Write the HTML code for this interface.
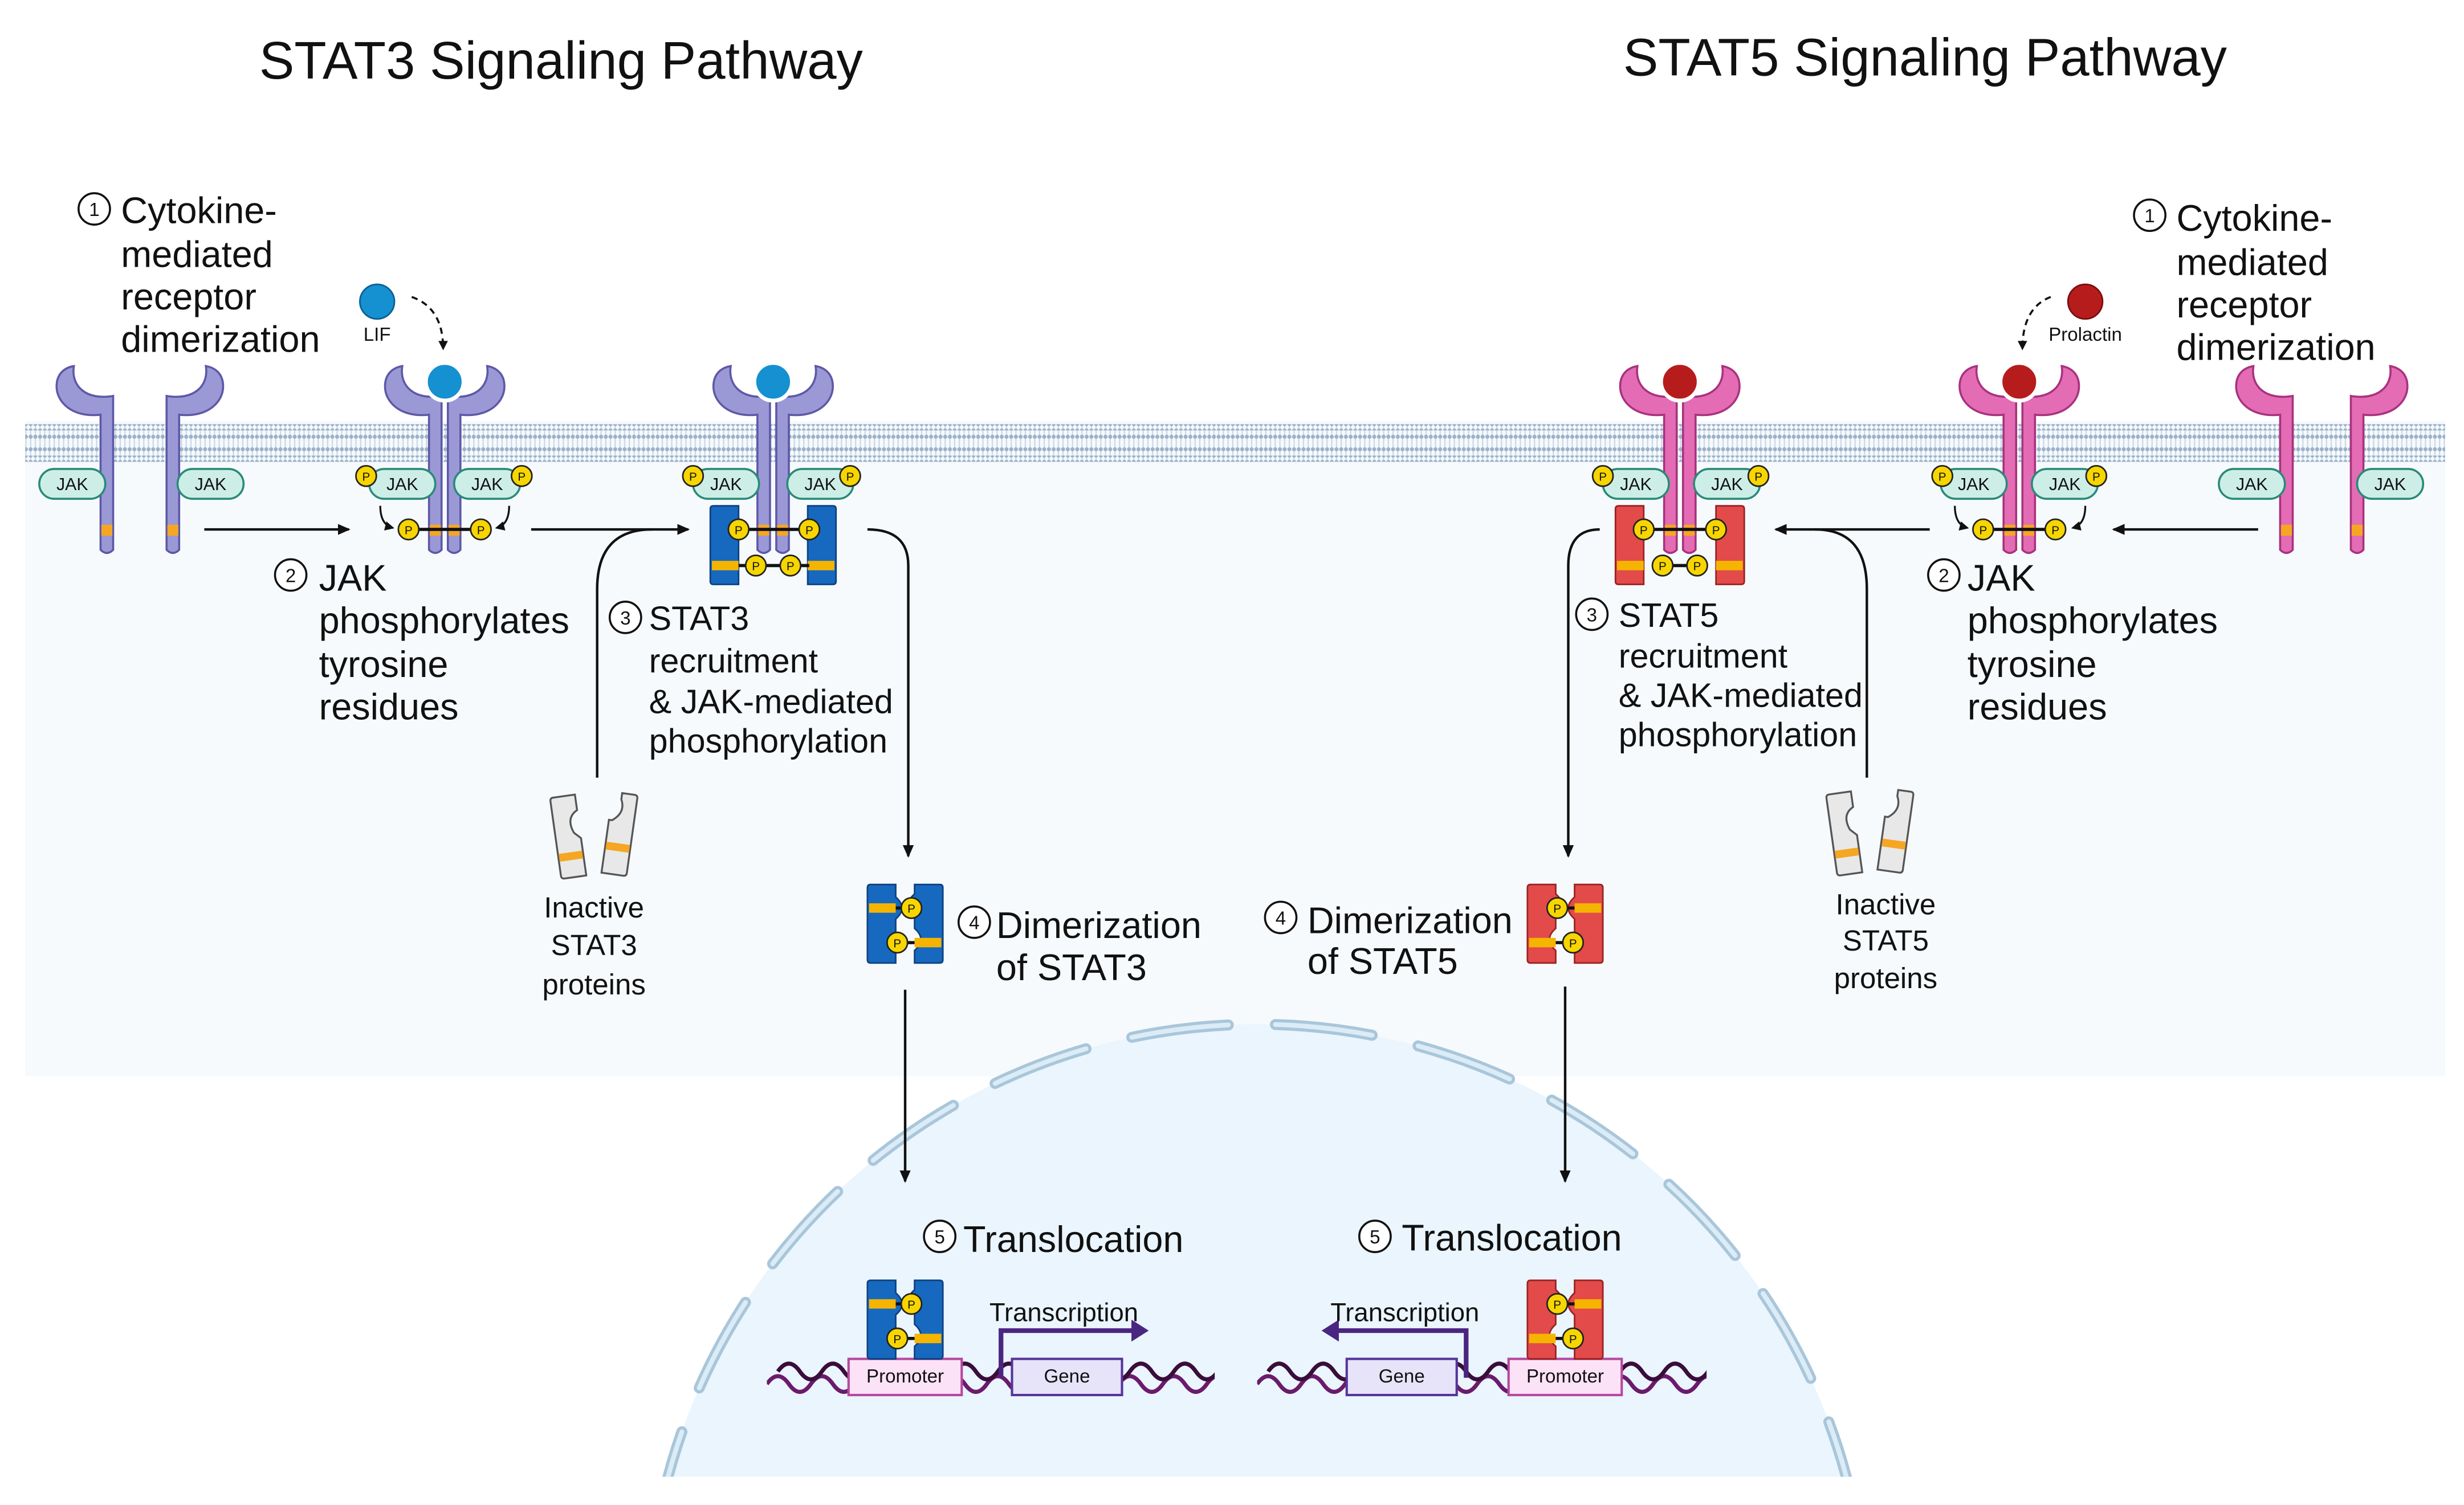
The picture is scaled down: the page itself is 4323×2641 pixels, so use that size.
<!DOCTYPE html>
<html><head><meta charset="utf-8"><style>
html,body{margin:0;padding:0;background:#fff;width:4323px;height:2641px;overflow:hidden;}
svg{display:block;}
text{font-family:"Liberation Sans",sans-serif;fill:#111;}
</style></head><body>
<svg width="4323" height="2641" viewBox="0 0 1568 958" preserveAspectRatio="none" xmlns="http://www.w3.org/2000/svg">
<defs>
<marker id="ah" markerWidth="8" markerHeight="8" refX="7" refY="4" orient="auto" markerUnits="userSpaceOnUse"><path d="M0,0.5 L8,4 L0,7.5 Z" fill="#111"/></marker>
<marker id="ahs" markerWidth="6" markerHeight="6" refX="5" refY="3" orient="auto" markerUnits="userSpaceOnUse"><path d="M0,0 L6,3 L0,6 Z" fill="#111"/></marker>
<pattern id="dots" width="3" height="4" patternUnits="userSpaceOnUse"><circle cx="1.5" cy="2" r="1.3" fill="#9db2c8"/></pattern>
<pattern id="tails" width="3" height="14" patternUnits="userSpaceOnUse"><line x1="1.5" y1="0" x2="1.5" y2="14" stroke="#c9d8e6" stroke-width="0.8"/></pattern>
<clipPath id="nclip"><rect x="0" y="0" width="1568" height="940"/></clipPath>
<g id="rP">
<path d="M-4,350 L-4,264 C-22,266 -32,256 -32,246 C-32,238 -27,234 -21,233 C-23,246 -13,255 4,252 L4,350 Q0,354 -4,350 Z" fill="#9b98d6" stroke="#5d58a6" stroke-width="1.3"/>
<rect x="-3.5" y="334" width="7" height="7" fill="#f5a623"/>
</g>
<g id="rK">
<path d="M-4,350 L-4,264 C-22,266 -32,256 -32,246 C-32,238 -27,234 -21,233 C-23,246 -13,255 4,252 L4,350 Q0,354 -4,350 Z" fill="#e36cb4" stroke="#a8327e" stroke-width="1.3"/>
<rect x="-3.5" y="334" width="7" height="7" fill="#f5a623"/>
</g>
<g id="jak"><rect x="-21" y="-9.5" width="42" height="19" rx="9.5" fill="#cdeee7" stroke="#2a8a78" stroke-width="1.3"/></g>
<g id="p"><circle r="6.5" fill="#f7d500" stroke="#222" stroke-width="1"/></g>
<g id="dimB">
<path d="M0,2 Q0,0 2,0 L18,0 L18,8 Q26,15 18,22 L18,30 Q10,37 18,44 L18,50 L2,50 Q0,50 0,48 Z" fill="#1669bf" stroke="#0e4180" stroke-width="1"/>
<path d="M48,2 Q48,0 46,0 L30,0 L30,6 Q22,13 30,20 L30,28 Q38,35 30,42 L30,50 L46,50 Q48,50 48,48 Z" fill="#1669bf" stroke="#0e4180" stroke-width="1"/>
<rect x="1" y="12" width="17" height="6" fill="#f5b400"/><rect x="30" y="34" width="17" height="6" fill="#f5b400"/>
<line x1="18" y1="15" x2="28" y2="15" stroke="#111" stroke-width="2"/><line x1="20" y1="37" x2="30" y2="37" stroke="#111" stroke-width="2"/>
<use href="#p" x="28" y="15"/><use href="#p" x="19" y="37"/>
</g>
<g id="dimR">
<path d="M0,2 Q0,0 2,0 L18,0 L18,6 Q26,13 18,20 L18,28 Q10,35 18,42 L18,50 L2,50 Q0,50 0,48 Z" fill="#e34a4a" stroke="#9a2222" stroke-width="1"/>
<path d="M48,2 Q48,0 46,0 L30,0 L30,8 Q22,15 30,22 L30,30 Q38,37 30,44 L30,50 L46,50 Q48,50 48,48 Z" fill="#e34a4a" stroke="#9a2222" stroke-width="1"/>
<rect x="30" y="12" width="17" height="6" fill="#f5b400"/><rect x="1" y="34" width="17" height="6" fill="#f5b400"/>
<line x1="20" y1="15" x2="30" y2="15" stroke="#111" stroke-width="2"/><line x1="18" y1="37" x2="28" y2="37" stroke="#111" stroke-width="2"/>
<use href="#p" x="19" y="15"/><use href="#p" x="29" y="37"/>
</g>
<g id="inact">
<g transform="rotate(-8)"><path d="M0,2 Q0,0 2,0 L16,0 L16,10 Q8,14 12,24 L16,28 L16,52 L2,52 Q0,52 0,50 Z" fill="#e8e8e8" stroke="#555" stroke-width="1.2"/><rect x="0.5" y="36" width="15" height="5" fill="#f5a623"/></g>
<g transform="translate(40,-4) rotate(8)"><path d="M16,2 Q16,0 14,0 L6,0 L6,4 Q10,12 2,18 L0,18 L0,52 L14,52 Q16,52 16,50 Z" fill="#e8e8e8" stroke="#555" stroke-width="1.2"/><rect x="0.5" y="32" width="15" height="5" fill="#f5a623"/></g>
</g>
<path id="helix" d="M0,0 q7,-10 14,0 t14,0 t14,0 t14,0 t14,0 t14,0 t14,0 t14,0 t14,0 t14,0 t14,0 t14,0 t14,0 t14,0 t14,0 t14,0 t14,0 t14,0 t14,0 t14,0 t14,0"/>
</defs>

<rect x="16" y="268" width="1540" height="417" fill="#f6fafd"/>
<g clip-path="url(#nclip)">
<circle cx="800" cy="1040" r="388" fill="#eaf5fd"/>
<circle cx="800" cy="1040" r="388" fill="none" stroke="#a9c6da" stroke-width="7" stroke-dasharray="62 30" stroke-linecap="round"/>
<circle cx="800" cy="1040" r="388" fill="none" stroke="#dbecf7" stroke-width="3" stroke-dasharray="62 30" stroke-linecap="round"/>
</g>
<rect x="16" y="270" width="1540" height="24" fill="url(#tails)"/>
<rect x="16" y="270" width="1540" height="4" fill="url(#dots)"/>
<rect x="16" y="276" width="1540" height="4" fill="url(#dots)"/>
<rect x="16" y="284" width="1540" height="4" fill="url(#dots)"/>
<rect x="16" y="290" width="1540" height="4" fill="url(#dots)"/>

<text x="357" y="50" font-size="33.5" text-anchor="middle">STAT3 Signaling Pathway</text>
<text x="1225" y="48" font-size="33.5" text-anchor="middle">STAT5 Signaling Pathway</text>

<g font-size="23.5">
<text x="77" y="142">Cytokine-</text><text x="77" y="170">mediated</text><text x="77" y="197">receptor</text><text x="77" y="224">dimerization</text>
<text x="203" y="376">JAK</text><text x="203" y="403">phosphorylates</text><text x="203" y="431">tyrosine</text><text x="203" y="458">residues</text>
<text x="634" y="597">Dimerization</text><text x="634" y="624">of STAT3</text>
<text x="613" y="797">Translocation</text>
<text x="1385" y="147">Cytokine-</text><text x="1385" y="175">mediated</text><text x="1385" y="202">receptor</text><text x="1385" y="229">dimerization</text>
<text x="1252" y="376">JAK</text><text x="1252" y="403">phosphorylates</text><text x="1252" y="431">tyrosine</text><text x="1252" y="458">residues</text>
<text x="832" y="594">Dimerization</text><text x="832" y="620">of STAT5</text>
<text x="892" y="796">Translocation</text>
</g>
<g font-size="21.5">
<text x="413" y="401">STAT3</text><text x="413" y="428">recruitment</text><text x="413" y="454">&amp; JAK-mediated</text><text x="413" y="479">phosphorylation</text>
<text x="1030" y="399">STAT5</text><text x="1030" y="425">recruitment</text><text x="1030" y="450">&amp; JAK-mediated</text><text x="1030" y="475">phosphorylation</text>
</g>
<g font-size="18.5" text-anchor="middle">
<text x="378" y="584">Inactive</text><text x="378" y="608">STAT3</text><text x="378" y="633">proteins</text>
<text x="1200" y="582">Inactive</text><text x="1200" y="605">STAT5</text><text x="1200" y="629">proteins</text>
</g>
<g fill="#fff" stroke="#111" stroke-width="1.3">
<circle cx="60" cy="133" r="10"/><circle cx="185" cy="366" r="10"/><circle cx="398" cy="393" r="10"/><circle cx="620" cy="587" r="10"/><circle cx="598" cy="787" r="10"/>
<circle cx="1368" cy="137" r="10"/><circle cx="1237" cy="366" r="10"/><circle cx="1013" cy="391" r="10"/><circle cx="815" cy="584" r="10"/><circle cx="875" cy="787" r="10"/>
</g>
<g font-size="12" text-anchor="middle">
<text x="60" y="137.5">1</text><text x="185" y="370.5">2</text><text x="398" y="397.5">3</text><text x="620" y="591.5">4</text><text x="598" y="791.5">5</text>
<text x="1368" y="141.5">1</text><text x="1237" y="370.5">2</text><text x="1013" y="395.5">3</text><text x="815" y="588.5">4</text><text x="875" y="791.5">5</text>
</g>

<circle cx="240" cy="192" r="11" fill="#1590d0" stroke="#0b5f94" stroke-width="1"/>
<text x="240" y="217" font-size="12" text-anchor="middle">LIF</text>
<path d="M262,189 Q282,196 282,222" fill="none" stroke="#111" stroke-width="1.3" stroke-dasharray="4 3" marker-end="url(#ahs)"/>
<circle cx="1327" cy="192" r="11" fill="#b71c1c" stroke="#7a0e0e" stroke-width="1"/>
<text x="1327" y="217" font-size="12" text-anchor="middle">Prolactin</text>
<path d="M1305,189 Q1287,196 1287,222" fill="none" stroke="#111" stroke-width="1.3" stroke-dasharray="4 3" marker-end="url(#ahs)"/>

<!-- STAT3 receptors -->
<use href="#rP" x="68" y="0"/><use href="#rP" transform="translate(110,0) scale(-1,1)"/>
<use href="#jak" x="46" y="308"/><use href="#jak" x="134" y="308"/>
<use href="#rP" x="277" y="0"/><use href="#rP" transform="translate(289,0) scale(-1,1)"/>
<circle cx="283" cy="243" r="12" fill="#1590d0" stroke="#fff" stroke-width="2.5"/>
<use href="#jak" x="256" y="308"/><use href="#jak" x="310" y="308"/>
<use href="#p" x="233" y="303"/><use href="#p" x="332" y="303"/>
<line x1="260" y1="337" x2="306" y2="337" stroke="#111" stroke-width="2"/>
<use href="#p" x="260" y="337"/><use href="#p" x="306" y="337"/>
<path d="M242,322 Q242,334 250,336" fill="none" stroke="#111" stroke-width="1.2" marker-end="url(#ahs)"/>
<path d="M324,322 Q324,334 316,336" fill="none" stroke="#111" stroke-width="1.2" marker-end="url(#ahs)"/>
<path d="M452,324 Q452,322 454,322 L470,322 L470,330 Q478,337 470,344 L470,372 L454,372 Q452,372 452,370 Z" fill="#1669bf" stroke="#0e4180"/>
<path d="M532,324 Q532,322 530,322 L514,322 L514,330 Q506,337 514,344 L514,372 L530,372 Q532,372 532,370 Z" fill="#1669bf" stroke="#0e4180"/>
<rect x="453" y="357" width="17" height="6" fill="#f5b400"/><rect x="514" y="357" width="17" height="6" fill="#f5b400"/>
<use href="#rP" x="486" y="0"/><use href="#rP" transform="translate(498,0) scale(-1,1)"/>
<circle cx="492" cy="243" r="12" fill="#1590d0" stroke="#fff" stroke-width="2.5"/>
<use href="#jak" x="462" y="308"/><use href="#jak" x="522" y="308"/>
<use href="#p" x="441" y="303"/><use href="#p" x="541" y="303"/>
<line x1="470" y1="337" x2="515" y2="337" stroke="#111" stroke-width="2"/>
<use href="#p" x="470" y="337"/><use href="#p" x="515" y="337"/>
<line x1="470" y1="360" x2="515" y2="360" stroke="#111" stroke-width="2"/>
<use href="#p" x="481" y="360"/><use href="#p" x="503" y="360"/>

<!-- STAT5 receptors -->
<use href="#rK" x="1455" y="0"/><use href="#rK" transform="translate(1500,0) scale(-1,1)"/>
<use href="#jak" x="1433" y="308"/><use href="#jak" x="1521" y="308"/>
<use href="#rK" x="1279" y="0"/><use href="#rK" transform="translate(1291,0) scale(-1,1)"/>
<circle cx="1285" cy="243" r="12" fill="#b71c1c" stroke="#fff" stroke-width="2.5"/>
<use href="#jak" x="1256" y="308"/><use href="#jak" x="1314" y="308"/>
<use href="#p" x="1236" y="303"/><use href="#p" x="1334" y="303"/>
<line x1="1262" y1="337" x2="1308" y2="337" stroke="#111" stroke-width="2"/>
<use href="#p" x="1262" y="337"/><use href="#p" x="1308" y="337"/>
<path d="M1244,322 Q1244,334 1252,336" fill="none" stroke="#111" stroke-width="1.2" marker-end="url(#ahs)"/>
<path d="M1327,322 Q1327,334 1319,336" fill="none" stroke="#111" stroke-width="1.2" marker-end="url(#ahs)"/>
<path d="M1028,324 Q1028,322 1030,322 L1046,322 L1046,330 Q1054,337 1046,344 L1046,372 L1030,372 Q1028,372 1028,370 Z" fill="#e34a4a" stroke="#9a2222"/>
<path d="M1110,324 Q1110,322 1108,322 L1092,322 L1092,330 Q1084,337 1092,344 L1092,372 L1108,372 Q1110,372 1110,370 Z" fill="#e34a4a" stroke="#9a2222"/>
<rect x="1029" y="357" width="17" height="6" fill="#f5b400"/><rect x="1092" y="357" width="17" height="6" fill="#f5b400"/>
<use href="#rK" x="1063" y="0"/><use href="#rK" transform="translate(1075,0) scale(-1,1)"/>
<circle cx="1069" cy="243" r="12" fill="#b71c1c" stroke="#fff" stroke-width="2.5"/>
<use href="#jak" x="1041" y="308"/><use href="#jak" x="1099" y="308"/>
<use href="#p" x="1020" y="303"/><use href="#p" x="1119" y="303"/>
<line x1="1046" y1="337" x2="1092" y2="337" stroke="#111" stroke-width="2"/>
<use href="#p" x="1046" y="337"/><use href="#p" x="1092" y="337"/>
<line x1="1058" y1="360" x2="1080" y2="360" stroke="#111" stroke-width="2"/>
<use href="#p" x="1058" y="360"/><use href="#p" x="1080" y="360"/>

<!-- JAK labels -->
<g font-size="11" text-anchor="middle">
<text x="46" y="312">JAK</text><text x="134" y="312">JAK</text>
<text x="256" y="312">JAK</text><text x="310" y="312">JAK</text>
<text x="462" y="312">JAK</text><text x="522" y="312">JAK</text>
<text x="1041" y="312">JAK</text><text x="1099" y="312">JAK</text>
<text x="1256" y="312">JAK</text><text x="1314" y="312">JAK</text>
<text x="1433" y="312">JAK</text><text x="1521" y="312">JAK</text>
</g>
<!-- P labels -->
<g font-size="7.5" text-anchor="middle">
<text x="233" y="306">P</text><text x="332" y="306">P</text><text x="260" y="340">P</text><text x="306" y="340">P</text>
<text x="441" y="306">P</text><text x="541" y="306">P</text><text x="470" y="340">P</text><text x="515" y="340">P</text><text x="481" y="363">P</text><text x="503" y="363">P</text>
<text x="1236" y="306">P</text><text x="1334" y="306">P</text><text x="1262" y="340">P</text><text x="1308" y="340">P</text>
<text x="1020" y="306">P</text><text x="1119" y="306">P</text><text x="1046" y="340">P</text><text x="1092" y="340">P</text><text x="1058" y="363">P</text><text x="1080" y="363">P</text>
<text x="580" y="581">P</text><text x="571" y="603">P</text>
<text x="991" y="581">P</text><text x="1001" y="603">P</text>
<text x="580" y="833">P</text><text x="571" y="855">P</text>
<text x="991" y="833">P</text><text x="1001" y="855">P</text>
</g>

<g fill="none" stroke="#111" stroke-width="1.6">
<line x1="130" y1="337" x2="222" y2="337" marker-end="url(#ah)"/>
<line x1="338" y1="337" x2="438" y2="337" marker-end="url(#ah)"/>
<path d="M380,495 L380,375 Q380,337 415,337"/>
<path d="M552,337 Q578,337 578,360 L578,545" marker-end="url(#ah)"/>
<line x1="576" y1="630" x2="576" y2="752" marker-end="url(#ah)"/>
<line x1="1437" y1="337" x2="1345" y2="337" marker-end="url(#ah)"/>
<line x1="1228" y1="337" x2="1130" y2="337" marker-end="url(#ah)"/>
<path d="M1188,495 L1188,375 Q1188,337 1155,337"/>
<path d="M1018,337 Q998,337 998,360 L998,545" marker-end="url(#ah)"/>
<line x1="996" y1="628" x2="996" y2="752" marker-end="url(#ah)"/>
</g>

<use href="#inact" x="350" y="508"/>
<use href="#inact" x="1162" y="506"/>

<use href="#dimB" x="552" y="563"/>
<use href="#dimR" x="972" y="563"/>

<g fill="none" stroke-width="2.6">
<use href="#helix" x="488" y="881" stroke="#6b1b6b"/>
<use href="#helix" x="495" y="873" stroke="#3a0d3a"/>
<use href="#helix" x="800" y="881" stroke="#6b1b6b"/>
<use href="#helix" x="807" y="873" stroke="#3a0d3a"/>
</g>
<rect x="470" y="860" width="18" height="30" fill="#eaf5fd"/>
<rect x="773" y="860" width="27" height="30" fill="#eaf5fd"/>
<rect x="1086" y="860" width="30" height="30" fill="#eaf5fd"/>
<rect x="540" y="865" width="72" height="23" fill="#fbe2f6" stroke="#b6489e" stroke-width="1.5"/>
<rect x="644" y="865" width="70" height="23" fill="#e7e3f8" stroke="#56359a" stroke-width="1.5"/>
<rect x="857" y="865" width="70" height="23" fill="#e7e3f8" stroke="#56359a" stroke-width="1.5"/>
<rect x="960" y="865" width="72" height="23" fill="#fbe2f6" stroke="#b6489e" stroke-width="1.5"/>
<g font-size="12" text-anchor="middle">
<text x="576" y="880">Promoter</text><text x="679" y="880">Gene</text>
<text x="892" y="880">Gene</text><text x="996" y="880">Promoter</text>
</g>
<path d="M637,877 L637,847 L722,847" fill="none" stroke="#4b2680" stroke-width="3"/>
<path d="M720,840 L731,847 L720,854 Z" fill="#4b2680"/>
<path d="M933,877 L933,847 L850,847" fill="none" stroke="#4b2680" stroke-width="3"/>
<path d="M852,840 L841,847 L852,854 Z" fill="#4b2680"/>
<text x="677" y="841" font-size="16.5" text-anchor="middle">Transcription</text>
<text x="894" y="841" font-size="16.5" text-anchor="middle">Transcription</text>
<use href="#dimB" x="552" y="815"/>
<use href="#dimR" x="972" y="815"/>
<g font-size="7.5" text-anchor="middle">
<text x="580" y="833">P</text><text x="571" y="855">P</text>
<text x="991" y="833">P</text><text x="1001" y="855">P</text>
<text x="580" y="581">P</text><text x="571" y="603">P</text>
<text x="991" y="581">P</text><text x="1001" y="603">P</text>
</g>
</svg>
</body></html>
